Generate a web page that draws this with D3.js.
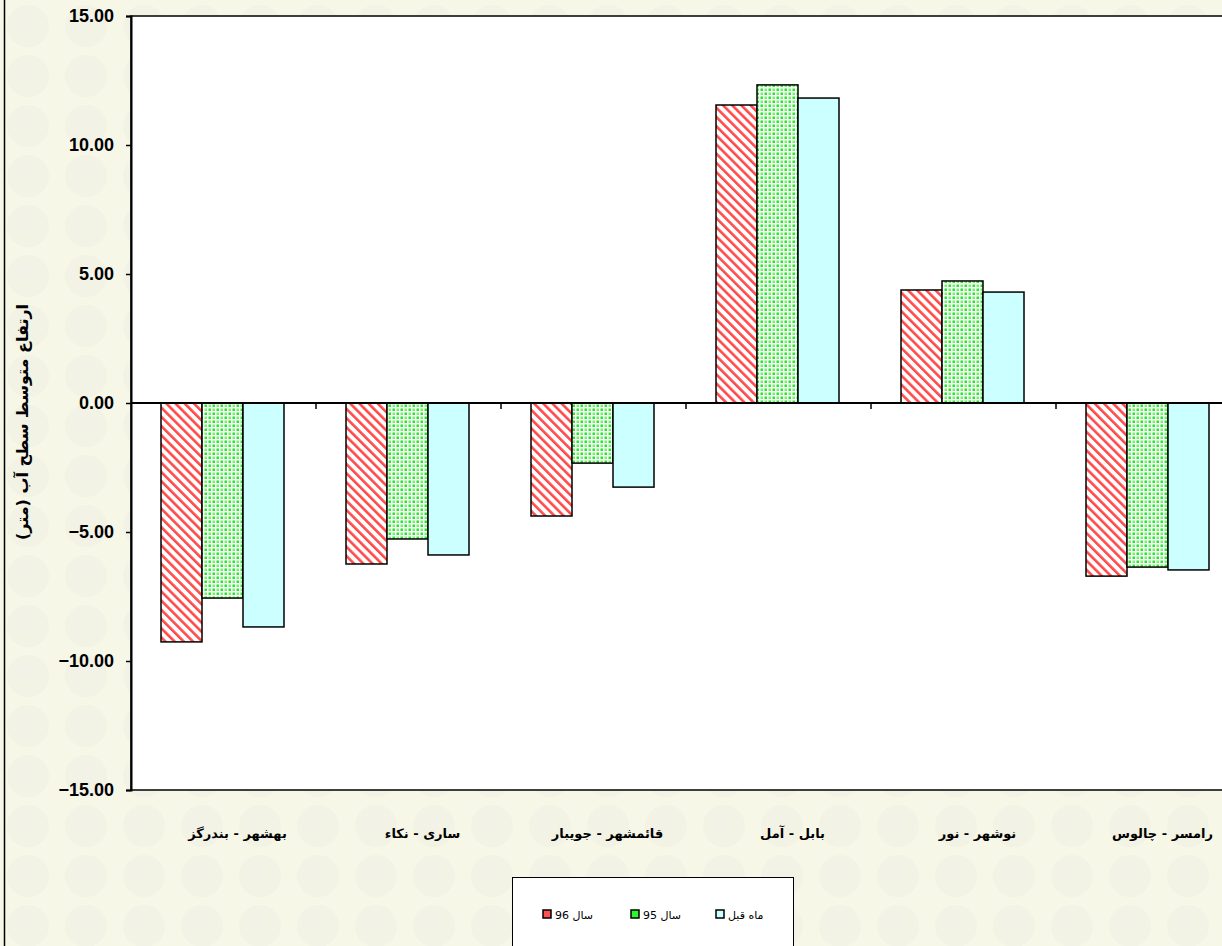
<!DOCTYPE html>
<html><head><meta charset="utf-8">
<script src="https://cdn.jsdelivr.net/npm/d3@7"></script>
<style>html,body{margin:0;padding:0;background:#f4f4e2;}svg{display:block;}</style>
</head><body>
<svg id="chart" width="1222" height="946"></svg>
<script>
const categories = ["بهشهر - بندرگز","ساری - نکاء","قائمشهر - جویبار","بابل - آمل","نوشهر - نور","رامسر - چالوس"];
const seriesNames = ["سال 96","سال 95","ماه قبل"];
const sal96 = [-9.26, -6.24, -4.38, 11.55, 4.38, -6.71];
const sal95 = [-7.56, -5.27, -2.33, 12.33, 4.73, -6.36];
const mahGhabl = [-8.68, -5.89, -3.26, 11.82, 4.30, -6.47];
const yTicks = [-15, -10, -5, 0, 5, 10, 15];
const yTitle = "ارتفاع متوسط سطح آب (متر)";

const series = [sal96, sal95, mahGhabl];
const svg = d3.select("#chart");
const W = 1222, H = 946;
const defs = svg.append("defs");

// background texture
const bg = defs.append("pattern").attr("id","bgpat").attr("patternUnits","userSpaceOnUse")
  .attr("width",58).attr("height",50);
bg.append("rect").attr("width",58).attr("height",50).attr("fill","#f7f7e8");
bg.append("circle").attr("cx",28).attr("cy",26).attr("r",21).attr("fill","#eeefe2").attr("opacity",0.6);
bg.append("circle").attr("cx",23).attr("cy",21).attr("r",11).attr("fill","#f1f2e8").attr("opacity",0.5);
svg.append("rect").attr("width",W).attr("height",H).attr("fill","url(#bgpat)");

// red hatch
const rp = defs.append("pattern").attr("id","redHatch").attr("patternUnits","userSpaceOnUse")
  .attr("width",6.5).attr("height",6.5).attr("patternTransform","rotate(-45)");
rp.append("rect").attr("width",6.5).attr("height",6.5).attr("fill","#ffffff");
rp.append("rect").attr("x",0).attr("width",2.6).attr("height",6.5).attr("fill","#ff4a4a");
// green dots
const gp = defs.append("pattern").attr("id","greenDots").attr("patternUnits","userSpaceOnUse")
  .attr("width",8).attr("height",8);
gp.append("rect").attr("width",8).attr("height",8).attr("fill","#ffffff");
gp.append("rect").attr("x",0.5).attr("y",0.5).attr("width",2.5).attr("height",2.5).attr("fill","#1aee1a");
gp.append("rect").attr("x",4.5).attr("y",4.5).attr("width",2.5).attr("height",2.5).attr("fill","#1aee1a");
gp.append("rect").attr("x",4.5).attr("y",0.5).attr("width",2.5).attr("height",2.5).attr("fill","#6ef56e");
gp.append("rect").attr("x",0.5).attr("y",4.5).attr("width",2.5).attr("height",2.5).attr("fill","#6ef56e");

const fills = ["url(#redHatch)","url(#greenDots)","#ccffff"];

// page left border
svg.append("line").attr("x1",4.5).attr("x2",4.5).attr("y1",0).attr("y2",H).attr("stroke","#000").attr("stroke-width",1.5);

const plot = {left:131, top:16, bottom:790, groupW:185};
const x = d3.scaleBand().domain(categories).range([plot.left, plot.left + plot.groupW*categories.length]).padding(0);
const xs = d3.scaleBand().domain(d3.range(series.length)).range([30, 153]).padding(0);
const y = d3.scaleLinear().domain([-15,15]).range([plot.bottom, plot.top]);

// plot area
svg.append("rect").attr("x",plot.left).attr("y",plot.top).attr("width",1300).attr("height",plot.bottom-plot.top)
  .attr("fill","#ffffff").attr("stroke","#000").attr("stroke-width",1.5);

// bars
categories.forEach((c,i)=>{
  series.forEach((s,j)=>{
    const v = s[i];
    svg.append("rect")
      .attr("x", x(c)+xs(j)).attr("width", xs.bandwidth())
      .attr("y", y(Math.max(0,v))).attr("height", Math.abs(y(v)-y(0)))
      .attr("fill", fills[j]).attr("stroke","#000").attr("stroke-width",1.5);
  });
});

// y axis
const yAxis = svg.append("g").attr("transform",`translate(${plot.left},0)`)
  .call(d3.axisLeft(y).tickValues(yTicks).tickFormat(d3.format(".2f")).tickSize(5).tickPadding(12));
yAxis.select(".domain").attr("stroke-width",2);
yAxis.selectAll("line").attr("stroke-width",1.5);
yAxis.selectAll("text").attr("font-family","'Liberation Sans', Arial, sans-serif")
  .attr("font-weight","bold").attr("font-size","18px").attr("fill","#000");

// zero axis with ticks at group boundaries
const xAxis = svg.append("g").attr("transform",`translate(0,${y(0)})`);
xAxis.append("line").attr("x1",plot.left).attr("x2",W).attr("stroke","#000").attr("stroke-width",2);
categories.slice(1).forEach(c=>{
  xAxis.append("line").attr("x1",x(c)).attr("x2",x(c)).attr("y1",0).attr("y2",6).attr("stroke","#000").attr("stroke-width",1.5);
});

// category labels
svg.append("g").selectAll("text").data(categories).join("text")
  .attr("x", d=>x(d)+x.bandwidth()/2+14).attr("y", 838)
  .attr("text-anchor","middle").attr("direction","rtl")
  .attr("font-family","'DejaVu Sans', sans-serif").attr("font-weight","bold").attr("font-size","13px")
  .attr("fill","#000").text(d=>d);

// y title
svg.append("text").attr("transform","translate(28,422) rotate(-90)")
  .attr("text-anchor","middle").attr("direction","rtl")
  .attr("font-family","'DejaVu Sans', sans-serif").attr("font-weight","bold").attr("font-size","16px")
  .attr("fill","#000").text(yTitle);

// legend
const lg = svg.append("g");
lg.append("rect").attr("x",512.5).attr("y",877.5).attr("width",281).attr("height",80)
  .attr("fill","#fff").attr("stroke","#000").attr("stroke-width",1);
const legendX = [547, 635, 720];
seriesNames.forEach((n,j)=>{
  lg.append("rect").attr("x",legendX[j]-4).attr("y",910).attr("width",8).attr("height",8)
    .attr("fill", j===0 ? "#ff5050" : j===1 ? "#2ef52e" : "#ccffff").attr("stroke","#000").attr("stroke-width",1.5);
  lg.append("text").attr("x",legendX[j]+8).attr("y",919).attr("text-anchor","start")
    .attr("font-family","'DejaVu Sans', sans-serif").attr("font-size","11px").attr("fill","#000")
    .attr("direction","ltr").text(n);
});
</script>
</body></html>
